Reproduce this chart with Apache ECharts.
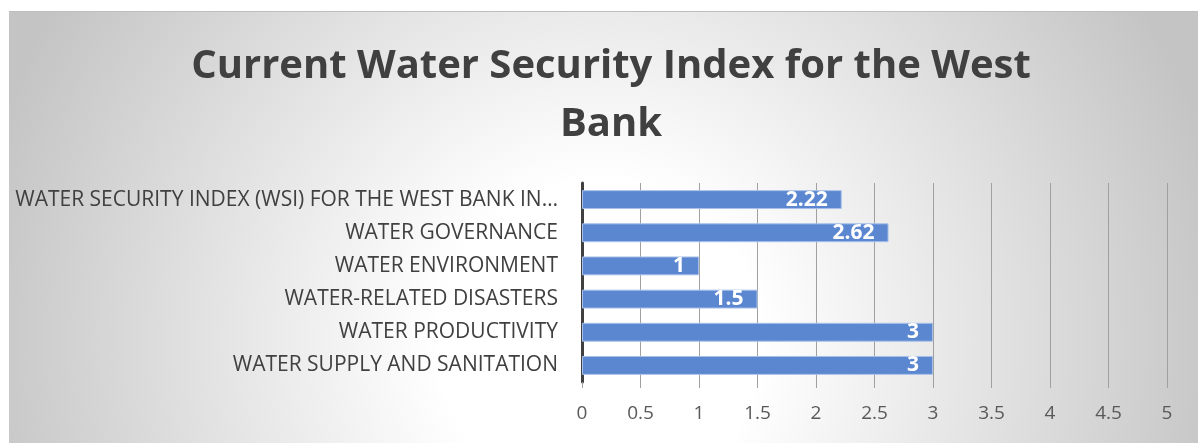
<!DOCTYPE html>
<html>
<head>
<meta charset="utf-8">
<script src="https://cdn.jsdelivr.net/npm/echarts@6/dist/echarts.min.js"></script>
<style>
  html, body { margin: 0; padding: 0; background: #fff; }
  #chart { position: absolute; left: 9px; top: 11px; width: 1189px; height: 432px; border-top: 1px solid #bdbdbd; box-sizing: border-box; }
</style>
</head>
<body>
<div id="chart"></div>
<script>
// categories top to bottom
const categories = [
  'WATER SECURITY INDEX (WSI) FOR THE WEST BANK IN…',
  'WATER GOVERNANCE',
  'WATER ENVIRONMENT',
  'WATER-RELATED DISASTERS',
  'WATER PRODUCTIVITY',
  'WATER SUPPLY AND SANITATION'
];
const scores = [2.22, 2.62, 1, 1.5, 3, 3];
const xTicks = [0, 0.5, 1, 1.5, 2, 2.5, 3, 3.5, 4, 4.5, 5];

const chart = echarts.init(document.getElementById('chart'));

const option = {
  animation: false,
  backgroundColor: {
    type: 'radial', x: 590, y: 330, r: 640, global: true,
    colorStops: [
      { offset: 0, color: '#ffffff' },
      { offset: 0.25, color: '#ffffff' },
      { offset: 1, color: '#c4c4c4' }
    ]
  },
  title: {
    text: 'Current Water Security Index for the West\nBank',
    left: 597, textAlign: 'center', top: 21,
    textStyle: {
      fontFamily: 'Open Sans', fontWeight: 'bold', fontSize: 40,
      color: '#404040', lineHeight: 58
    }
  },
  grid: { left: 573, right: 31, top: 171, bottom: 61 },
  xAxis: {
    type: 'value',
    min: xTicks[0],
    max: xTicks[xTicks.length - 1],
    interval: 0.5,
    axisLine: { show: false },
    axisTick: { show: true, length: 6, lineStyle: { color: '#a0a0a0' } },
    splitLine: { show: true, lineStyle: { color: '#a0a0a0', width: 1 } },
    axisLabel: {
      margin: 22, fontFamily: 'Open Sans', fontSize: 19, color: '#595959'
    }
  },
  yAxis: {
    type: 'category',
    data: categories,
    inverse: true,
    axisLine: { show: true, lineStyle: { color: '#404040', width: 3 } },
    axisTick: { show: false },
    axisLabel: {
      margin: 24, fontFamily: 'Open Sans', fontSize: 21, color: '#404040',
      width: 548, overflow: 'truncate', ellipsis: '…'
    }
  },
  series: [{
    type: 'bar',
    data: scores,
    barWidth: '57%',
    itemStyle: { color: '#5b87d0', borderColor: '#a9c1ea', borderWidth: 1 },
    label: {
      show: true, position: 'insideRight', distance: 14,
      color: '#ffffff', fontFamily: 'Open Sans', fontWeight: 'bold', fontSize: 21
    }
  }]
};

chart.setOption(option);
</script>
</body>
</html>
